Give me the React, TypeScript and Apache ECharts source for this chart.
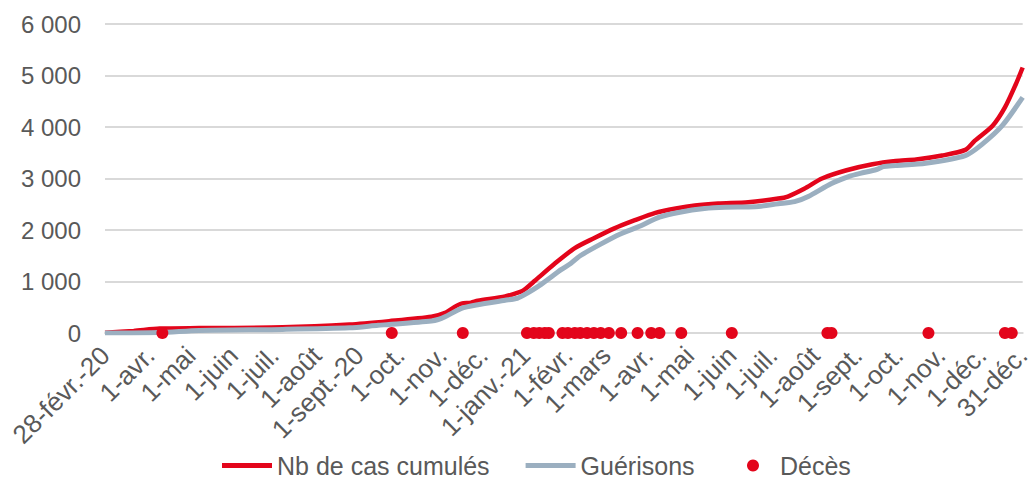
import React, { useEffect, useRef } from 'react';
import * as echarts from 'echarts';

const START_DATE = '2020-02-28';
const END_DATE = '2021-12-31';

const tickDates = [
  '2020-02-28', '2020-04-01', '2020-05-01', '2020-06-01', '2020-07-01', '2020-08-01',
  '2020-09-01', '2020-10-01', '2020-11-01', '2020-12-01', '2021-01-01', '2021-02-01',
  '2021-03-01', '2021-04-01', '2021-05-01', '2021-06-01', '2021-07-01', '2021-08-01',
  '2021-09-01', '2021-10-01', '2021-11-01', '2021-12-01', '2021-12-31',
];
const tickLabels = [
  '28-févr.-20', '1-avr.', '1-mai', '1-juin', '1-juil.', '1-août',
  '1-sept.-20', '1-oct.', '1-nov.', '1-déc.', '1-janv.-21', '1-févr.',
  '1-mars', '1-avr.', '1-mai', '1-juin', '1-juil.', '1-août',
  '1-sept.', '1-oct.', '1-nov.', '1-déc.', '31-déc.',
];

const casDates = [
  '2020-02-28', '2020-03-20', '2020-04-08', '2020-05-07', '2020-07-07', '2020-08-25',
  '2020-09-23', '2020-10-24', '2020-11-03', '2020-11-10', '2020-11-15', '2020-11-22',
  '2020-11-27', '2020-12-17', '2020-12-28', '2020-12-31', '2021-01-08', '2021-01-22',
  '2021-02-06', '2021-02-20', '2021-03-07', '2021-03-22', '2021-04-06', '2021-04-21',
  '2021-05-05', '2021-05-22', '2021-06-13', '2021-07-05', '2021-07-12', '2021-07-24',
  '2021-08-06', '2021-08-24', '2021-09-12', '2021-09-29', '2021-10-14', '2021-11-02',
  '2021-11-19', '2021-11-26', '2021-12-09', '2021-12-18', '2021-12-26', '2021-12-31',
];
const casValues = [
  5, 40, 85, 95, 110, 165,
  230, 315, 390, 507, 570, 590,
  627, 710, 800, 840, 1020, 1340,
  1648, 1840, 2032, 2190, 2333, 2417,
  2475, 2513, 2540, 2610, 2650, 2800,
  3000, 3160, 3277, 3340, 3368, 3445,
  3555, 3735, 4025, 4380, 4832, 5155,
];

const guerDates = [
  '2020-02-28', '2020-04-08', '2020-05-07', '2020-07-07', '2020-08-25', '2020-09-15',
  '2020-09-23', '2020-10-24', '2020-10-29', '2020-11-03', '2020-11-15', '2020-11-27',
  '2020-12-17', '2020-12-26', '2020-12-31', '2021-01-11', '2021-01-27', '2021-02-03',
  '2021-02-10', '2021-02-25', '2021-03-11', '2021-03-26', '2021-04-09', '2021-04-24',
  '2021-05-12', '2021-05-27', '2021-06-18', '2021-07-05', '2021-07-17', '2021-07-27',
  '2021-08-13', '2021-08-27', '2021-09-03', '2021-09-15', '2021-09-20', '2021-09-29',
  '2021-10-21', '2021-11-19', '2021-12-01', '2021-12-16', '2021-12-31',
];
const guerValues = [
  0, 10, 50, 70, 100, 150,
  165, 235, 262, 315, 480, 550,
  635, 675, 740, 920, 1230, 1350,
  1500, 1725, 1917, 2077, 2250, 2346,
  2417, 2442, 2450, 2510, 2550, 2650,
  2903, 3050, 3100, 3175, 3230, 3250,
  3297, 3445, 3658, 4025, 4574,
];

const decesDates = [
  '2020-04-10', '2020-09-25', '2020-11-16',
  '2021-01-02', '2021-01-07', '2021-01-11', '2021-01-15', '2021-01-18',
  '2021-01-28', '2021-02-01', '2021-02-06', '2021-02-10', '2021-02-15',
  '2021-02-20', '2021-02-25', '2021-03-03', '2021-03-12', '2021-03-24',
  '2021-04-03', '2021-04-09', '2021-04-25', '2021-06-01', '2021-08-10',
  '2021-08-13', '2021-10-23', '2021-12-18', '2021-12-23',
];

const RED = '#E3051B';
const GREY = '#9BAFC0';
const TEXT = '#595959';
const GRID = '#D9D9D9';
const FONT = '"Liberation Sans", Arial, Helvetica, sans-serif';

function buildCategories(start: string, end: string): string[] {
  const out: string[] = [];
  const s = new Date(start + 'T00:00:00Z').getTime();
  const e = new Date(end + 'T00:00:00Z').getTime();
  for (let t = s; t <= e; t += 86400000) {
    out.push(new Date(t).toISOString().slice(0, 10));
  }
  return out;
}

export default function App() {
  const ref = useRef<HTMLDivElement>(null);

  useEffect(() => {
    if (!ref.current) return;
    const chart = echarts.init(ref.current, undefined, { renderer: 'svg' });
    const categories = buildCategories(START_DATE, END_DATE);
    const idx = (d: string) => categories.indexOf(d);
    const labelMap: Record<string, string> = {};
    tickDates.forEach((d, i) => (labelMap[d] = tickLabels[i]));

    chart.setOption({
      animation: false,
      backgroundColor: '#ffffff',
      grid: { left: 105, right: 7, top: 24, bottom: 171, containLabel: false },
      xAxis: {
        type: 'category',
        data: categories,
        boundaryGap: false,
        axisLine: { show: true, lineStyle: { color: GRID, width: 2 } },
        axisTick: { show: false },
        axisLabel: {
          interval: (_i: number, v: string) => labelMap[v] !== undefined,
          formatter: (v: string) => labelMap[v] ?? '',
          rotate: 45,
          margin: 18,
          color: TEXT,
          fontSize: 26,
          fontFamily: FONT,
        },
        splitLine: { show: false },
      },
      yAxis: {
        type: 'value',
        min: 0,
        max: 6000,
        interval: 1000,
        axisLine: { show: false },
        axisTick: { show: false },
        axisLabel: {
          margin: 24,
          color: TEXT,
          fontSize: 24,
          fontFamily: FONT,
          formatter: (v: number) => String(v).replace(/\B(?=(\d{3})+(?!\d))/g, ' '),
        },
        splitLine: { lineStyle: { color: GRID, width: 2 } },
      },
      legend: [
        {
          data: [
            { name: 'Nb de cas cumulés', icon: 'rect' },
            { name: 'Guérisons', icon: 'rect' },
          ],
          left: 222,
          top: 453,
          padding: 0,
          itemWidth: 50,
          itemHeight: 5,
          itemGap: 36,
          textStyle: { color: TEXT, fontSize: 25, fontFamily: FONT },
        },
        {
          data: [{ name: 'Décès', icon: 'circle' }],
          left: 747,
          top: 453,
          padding: 0,
          itemWidth: 12,
          itemHeight: 12,
          textStyle: { color: TEXT, fontSize: 25, fontFamily: FONT, padding: [0, 0, 0, 16] },
        },
      ],
      series: [
        {
          name: 'Nb de cas cumulés',
          type: 'line',
          data: casDates.map((d, i) => [idx(d), casValues[i]]),
          showSymbol: false,
          smooth: 0.25,
          lineStyle: { color: RED, width: 4.5 },
          itemStyle: { color: RED },
          z: 2,
        },
        {
          name: 'Guérisons',
          type: 'line',
          data: guerDates.map((d, i) => [idx(d), guerValues[i]]),
          showSymbol: false,
          smooth: 0.25,
          lineStyle: { color: GREY, width: 5 },
          itemStyle: { color: GREY },
          z: 3,
        },
        {
          name: 'Décès',
          type: 'scatter',
          data: decesDates.map((d) => [idx(d), 0]),
          symbol: 'circle',
          symbolSize: 12,
          itemStyle: { color: RED, opacity: 1 },
          z: 4,
        },
      ],
    });
    return () => chart.dispose();
  }, []);

  return (
    <div
      ref={ref}
      style={{ position: 'fixed', left: 0, top: 0, width: 1034, height: 504, background: '#fff' }}
    />
  );
}
